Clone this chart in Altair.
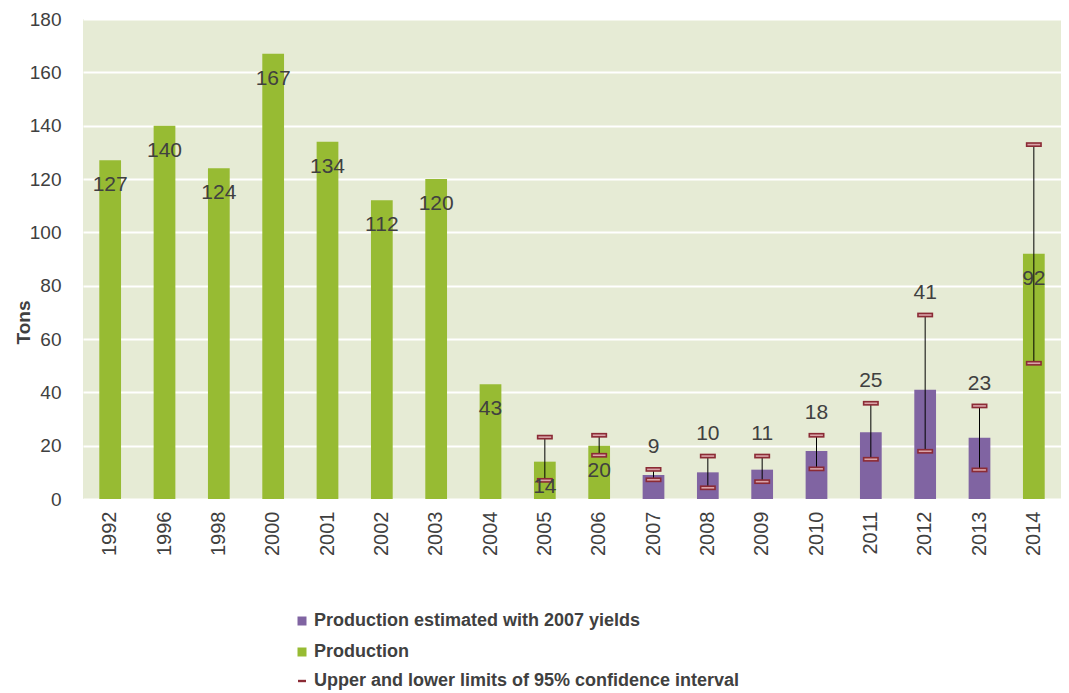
import altair as alt
import pandas as pd

years = ["1992", "1996", "1998", "2000", "2001", "2002", "2003", "2004", "2005",
         "2006", "2007", "2008", "2009", "2010", "2011", "2012", "2013", "2014"]
values = [127, 140, 124, 167, 134, 112, 120, 43, 14, 20, 9, 10, 11, 18, 25, 41, 23, 92]
series = ["Production"] * 10 + ["Production estimated with 2007 yields"] * 7 + ["Production"]
upper = [None] * 8 + [23.2, 23.9, 11.1, 16.1, 16.1, 23.9, 35.9, 69.0, 34.9, 132.9]
lower = [None] * 8 + [7.0, 16.4, 7.2, 4.2, 6.5, 11.3, 14.9, 17.9, 10.9, 50.9]

EST = "Production estimated with 2007 yields"
PROD = "Production"
CI = "Upper and lower limits of 95% confidence interval"

df = pd.DataFrame({"year": years, "value": values, "series": series,
                   "upper": upper, "lower": lower})

FONT = "Liberation Sans"
TXT = "#404040"
GREEN = "#97BB33"
PURPLE = "#8064A2"
DARKRED = "#8B2B35"
PINK = "#D9A3A8"

x = alt.X("year:N", sort=years, title=None,
          scale=alt.Scale(paddingInner=0.6, paddingOuter=0.3),
          axis=alt.Axis(labelAngle=-90, labelFontSize=20, labelColor=TXT, labelFont=FONT,
                        ticks=False, domain=False, labelPadding=12, grid=False))
xs = alt.X("year:N", sort=years)

base = alt.Chart(df)

legend_common = dict(orient="none", legendX=210, title=None, labelFont=FONT,
                     labelFontSize=18, labelFontWeight="bold", labelColor=TXT,
                     labelOffset=3, labelLimit=0)

bars = base.mark_bar().encode(
    x=x,
    y=alt.Y("value:Q", scale=alt.Scale(domain=[0, 180]),
            axis=alt.Axis(values=list(range(0, 181, 20)), title="Tons", titleFont=FONT,
                          titleFontSize=19, titleFontWeight="bold", titleColor=TXT,
                          titleX=-60, titleY=303, titleBaseline="middle",
                          labelFontSize=19, labelColor=TXT,
                          labelFont=FONT, ticks=False, domain=False, labelPadding=22,
                          grid=True, gridColor="white", gridWidth=2)),
    color=alt.Color("series:N", scale=alt.Scale(domain=[EST, PROD], range=[PURPLE, GREEN]),
                    legend=alt.Legend(legendY=593, direction="vertical", symbolType="square",
                                      symbolSize=81, rowPadding=13, **legend_common)),
)

whisk = base.transform_filter("isValid(datum.upper)").mark_rule(
    color="black", strokeWidth=1).encode(x=xs, y="lower:Q", y2="upper:Q")

cap_data = base.transform_filter("isValid(datum.upper)").transform_fold(
    ["upper", "lower"], as_=["lim", "v"]
).transform_calculate(ci=f"'{CI}'")

caps_outer = cap_data.mark_point(
    filled=True, color=DARKRED, opacity=1, size=256
).encode(
    x=xs, y="v:Q",
    shape=alt.Shape("ci:N", scale=alt.Scale(domain=[CI], range=["M-1,-0.3H1V0.3H-1Z"]),
                    legend=alt.Legend(legendY=653, symbolSize=64, **legend_common)),
)

caps_inner = cap_data.mark_point(
    filled=True, color=PINK, opacity=1, size=256, shape="M-0.8,-0.1H0.8V0.1H-0.8Z"
).encode(x=xs, y="v:Q")

lab_green = base.transform_filter(f"datum.series == '{PROD}'").mark_text(
    dy=25, fontSize=21, font=FONT, color=TXT).encode(x=xs, y="value:Q", text="value:Q")

lab_purple = base.transform_filter(f"datum.series == '{EST}'").mark_text(
    dy=-22, fontSize=21, font=FONT, color=TXT).encode(x=xs, y="upper:Q", text="value:Q")

chart = alt.layer(bars, whisk, caps_outer, caps_inner, lab_green, lab_purple).properties(
    width=978, height=480,
    autosize=alt.AutoSizeParams(type="none"),
    padding={"left": 75, "top": 11, "right": 0, "bottom": 194},
).configure_view(fill="#E6EBD5", stroke=None)

chart.save("out.html", embed_options={"renderer": "svg", "actions": False})
